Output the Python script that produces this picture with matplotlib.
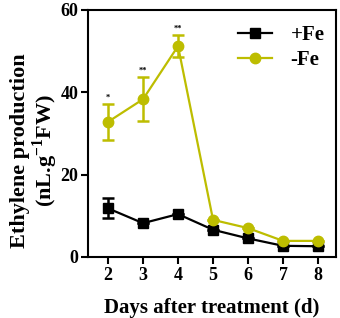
import matplotlib
matplotlib.use('Agg')
import matplotlib.pyplot as plt

plt.rcParams['font.family'] = ['Liberation Serif', 'DejaVu Serif']
plt.rcParams['font.weight'] = 'bold'
plt.rcParams['mathtext.fontset'] = 'custom'
plt.rcParams['mathtext.rm'] = 'Liberation Serif:bold'
plt.rcParams['mathtext.bf'] = 'Liberation Serif:bold'

days = [2, 3, 4, 5, 6, 7, 8]
plus_fe = [11.8, 8.2, 10.4, 6.6, 4.5, 2.7, 2.6]
plus_fe_err = [2.4, 0, 0, 0, 0, 0, 0]
minus_fe = [32.8, 38.3, 51.2, 9.0, 7.0, 3.9, 3.9]
minus_fe_err = [4.3, 5.3, 2.6, 0, 0, 0, 0]
stars = ['*', '**', '**', '', '', '', '']

green = '#BDBD00'

fig = plt.figure(figsize=(3.4, 3.18), dpi=100)
ax = fig.add_axes([0.259, 0.192, 0.729, 0.777])

ax.errorbar(days, plus_fe, yerr=plus_fe_err, fmt='none', ecolor='black',
            elinewidth=1.8, capsize=4, capthick=1.8, zorder=3)
ax.plot(days, plus_fe, color='black', marker='s', markersize=7, linewidth=1.6,
        label='+Fe', zorder=3)
ax.errorbar(days, minus_fe, yerr=minus_fe_err, fmt='none', ecolor=green,
            elinewidth=1.8, capsize=4, capthick=1.8, zorder=4)
ax.plot(days, minus_fe, color=green, marker='o', markersize=7.5, linewidth=1.6,
        label='-Fe', zorder=4)

for d, v, e, s in zip(days, minus_fe, minus_fe_err, stars):
    if s:
        ax.text(d, v + e + 0.6, s, ha='center', va='bottom', fontsize=6, fontweight='bold')

ax.set_xlim(1.43, 8.51)
ax.set_ylim(0, 60)
ax.set_xticks(days)
ax.set_yticks([0, 20, 40, 60])
for sp in ax.spines.values():
    sp.set_linewidth(1.5)
ax.tick_params(axis='both', width=1.5, length=5, labelsize=13, pad=2)
for lab in ax.get_xticklabels() + ax.get_yticklabels():
    lab.set_fontweight('bold')

ax.set_xlabel('Days after treatment (d)', fontsize=15, fontweight='bold', labelpad=10)
ax.set_ylabel('Ethylene production\n(nL.g$^{-1}$FW)', fontsize=16, fontweight='bold',
              linespacing=1.0)
ax.yaxis.set_label_coords(-0.113, 0.43)

leg = ax.legend(loc='upper right', frameon=False, fontsize=15, handlelength=1.6,
                handletextpad=0.9, borderaxespad=0.15, labelspacing=0.25,
                bbox_to_anchor=(1.0, 0.985))

fig.savefig('out.png', dpi=100)
